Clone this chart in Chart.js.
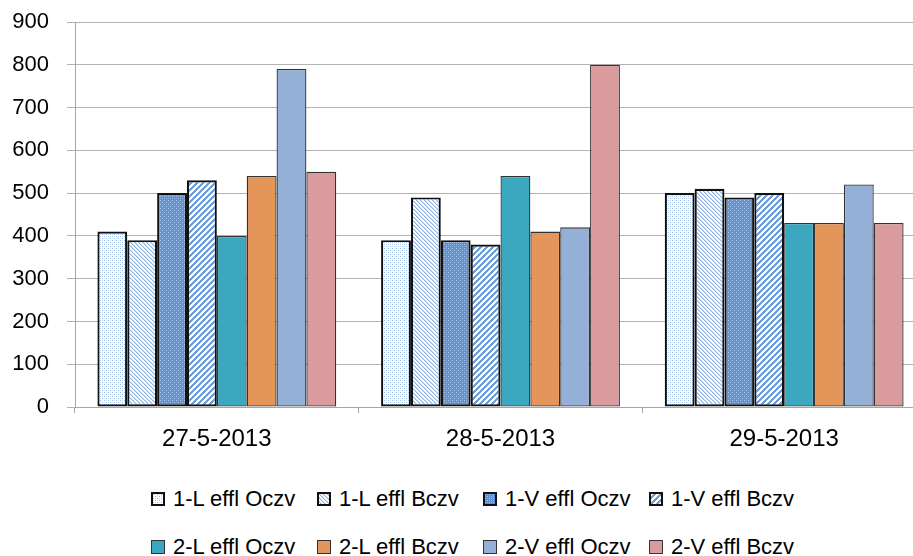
<!DOCTYPE html>
<html>
<head>
<meta charset="utf-8">
<script src="https://cdn.jsdelivr.net/npm/chart.js@4.4.1/dist/chart.umd.min.js"></script>
<style>
html, body { margin: 0; padding: 0; background: #fff; overflow: hidden; width: 913px; height: 556px; }
#wrap { position: absolute; left: 0; top: 0; width: 940px; height: 470px; }
.legend { position: absolute; left: 151px; width: 700px; height: 24px; display: flex; font-family: "Liberation Sans", sans-serif; font-size: 22px; line-height: 24px; color: #000; }
.item { width: 166px; display: flex; align-items: center; white-space: nowrap; }
.item canvas { margin-right: 8px; }
</style>
</head>
<body>
<div id="wrap"><canvas id="chart" width="940" height="470"></canvas></div>
<div class="legend" id="legendRow1" style="top:487px"></div>
<div class="legend" id="legendRow2" style="top:535px"></div>
<script>
const categories = ["27-5-2013", "28-5-2013", "29-5-2013"];
const seriesNames = ["1-L effl Oczv", "1-L effl Bczv", "1-V effl Oczv", "1-V effl Bczv",
                     "2-L effl Oczv", "2-L effl Bczv", "2-V effl Oczv", "2-V effl Bczv"];
const l1Oczv = [410, 390, 500];
const l1Bczv = [390, 490, 510];
const v1Oczv = [500, 390, 490];
const v1Bczv = [530, 380, 500];
const l2Oczv = [400, 540, 430];
const l2Bczv = [540, 410, 430];
const v2Oczv = [790, 420, 520];
const v2Bczv = [550, 800, 430];
const yTicks = [0, 100, 200, 300, 400, 500, 600, 700, 800, 900];

// little tiles for the hatched series
function makeTile(size, draw) {
    const c = document.createElement("canvas");
    c.width = size;
    c.height = size;
    draw(c.getContext("2d"), size);
    return c;
}
function px(g, x, y, col) { g.fillStyle = col; g.fillRect(x, y, 1, 1); }

const tileDots = makeTile(4, (g, n) => {
    g.fillStyle = "#ffffff"; g.fillRect(0, 0, n, n);
    px(g, 0, 0, "#9cbde8"); px(g, 2, 2, "#9cbde8");
    px(g, 2, 0, "#d3e2f5"); px(g, 0, 2, "#d3e2f5");
});
const tileBack = makeTile(4, (g, n) => {
    g.fillStyle = "#ffffff"; g.fillRect(0, 0, n, n);
    for (let y = 0; y < n; y++) {
        for (let x = 0; x < n; x++) {
            const d = ((x - y) % n + n) % n;
            if (d === 0) px(g, x, y, "#8fb3e2");
            if (d === 1) px(g, x, y, "#c9dbf3");
        }
    }
});
const tileDarkDots = makeTile(4, (g, n) => {
    g.fillStyle = "#5e90d3"; g.fillRect(0, 0, n, n);
    px(g, 0, 0, "#a9c8ef"); px(g, 2, 2, "#a9c8ef");
    px(g, 2, 0, "#7ba5dd"); px(g, 0, 2, "#7ba5dd");
});
const tileForward = makeTile(6, (g, n) => {
    g.fillStyle = "#ffffff"; g.fillRect(0, 0, n, n);
    for (let y = 0; y < n; y++) {
        for (let x = 0; x < n; x++) {
            const d = (x + y) % n;
            if (d < 3) px(g, x, y, "#6d9ddc");
        }
    }
});

const ctx = document.getElementById("chart").getContext("2d");
const fills = [
    ctx.createPattern(tileDots, "repeat"),
    ctx.createPattern(tileBack, "repeat"),
    ctx.createPattern(tileDarkDots, "repeat"),
    ctx.createPattern(tileForward, "repeat"),
    "#3ba8bf", "#e4955a", "#95b0d7", "#d99b9e"
];
const tiles = [tileDots, tileBack, tileDarkDots, tileForward, null, null, null, null];
const values = [l1Oczv, l1Bczv, v1Oczv, v1Bczv, l2Oczv, l2Bczv, v2Oczv, v2Bczv];

const datasets = seriesNames.map((name, i) => ({
    label: name,
    data: values[i],
    backgroundColor: fills[i],
    borderColor: i < 4 ? "#111111" : "#333333",
    borderWidth: i < 4 ? 2.2 : 1.3,
    borderSkipped: false,
    categoryPercentage: 0.842,
    barPercentage: 1
}));

const chart = new Chart(ctx, {
    type: "bar",
    data: { labels: categories, datasets: datasets },
    options: {
        responsive: false,
        animation: false,
        layout: { padding: { top: 22, right: 14, left: 0, bottom: 0 } },
        plugins: { legend: { display: false }, tooltip: { enabled: false } },
        scales: {
            x: {
                grid: { offset: true, drawOnChartArea: false, tickLength: 6, color: "#a6a6a6" },
                border: { color: "#a6a6a6" },
                ticks: { font: { family: "Liberation Sans", size: 24 }, color: "#000", padding: 12 },
                afterFit: (s) => { s.height = 63; }
            },
            y: {
                min: 0,
                max: 900,
                afterBuildTicks: (s) => { s.ticks = yTicks.map(v => ({ value: v })); },
                ticks: { font: { family: "Liberation Sans", size: 22 }, color: "#000", padding: 18 },
                grid: { color: "#b3b3b3", tickLength: 8 },
                border: { color: "#a6a6a6" },
                afterFit: (s) => { s.width = 75; s.paddingTop = 0; s.paddingBottom = 0; }
            }
        }
    }
});

// legend in two rows of four, as in the picture
datasets.forEach((ds, i) => {
    const row = document.getElementById(i < 4 ? "legendRow1" : "legendRow2");
    const item = document.createElement("div");
    item.className = "item";
    const sw = document.createElement("canvas");
    sw.width = 14;
    sw.height = 14;
    const g = sw.getContext("2d");
    g.fillStyle = tiles[i] ? g.createPattern(tiles[i], "repeat") : ds.backgroundColor;
    g.fillRect(0, 0, 14, 14);
    g.strokeStyle = ds.borderColor;
    g.lineWidth = i < 4 ? 2 : 1;
    const o = g.lineWidth / 2;
    g.strokeRect(o, o, 14 - 2 * o, 14 - 2 * o);
    const txt = document.createElement("span");
    txt.textContent = ds.label;
    item.appendChild(sw);
    item.appendChild(txt);
    row.appendChild(item);
});
</script>
</body>
</html>
